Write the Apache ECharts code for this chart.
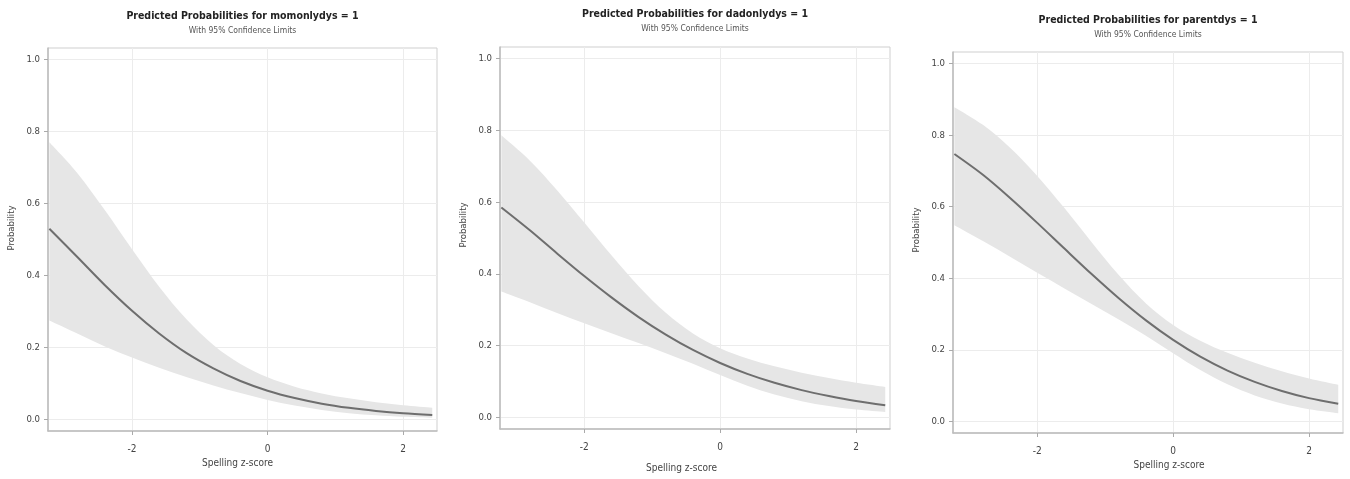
<!DOCTYPE html>
<html>
<head>
<meta charset="utf-8">
<title>Predicted Probabilities</title>
<script src="https://cdn.jsdelivr.net/npm/echarts@6/dist/echarts.min.js"></script>
<style>
  html, body { margin: 0; padding: 0; background: #fff; }
  #chart { width: 1350px; height: 479px; }
</style>
</head>
<body>
<div id="chart"></div>
<script>
// spelling z-score values where the curves were read
const zScores = [-3.22, -2.8, -2.4, -2.0, -1.6, -1.2, -0.8, -0.4, 0, 0.4, 0.8, 1.2, 1.6, 2.0, 2.43];

// momonlydys
const momMean = [0.530, 0.450, 0.373, 0.302, 0.239, 0.185, 0.142, 0.107, 0.080, 0.0595, 0.0439, 0.0323, 0.0237, 0.0173, 0.0126];
const momUpper = [0.770, 0.683, 0.581, 0.473, 0.369, 0.279, 0.207, 0.154, 0.117, 0.091, 0.0725, 0.0587, 0.0479, 0.0394, 0.0325];
const momLower = [0.275, 0.238, 0.203, 0.172, 0.144, 0.118, 0.0947, 0.0733, 0.0543, 0.0385, 0.0263, 0.0176, 0.0115, 0.0075, 0.0048];

// dadonlydys
const dadMean = [0.585, 0.5215, 0.457, 0.394, 0.3345, 0.2797, 0.2308, 0.1881, 0.1519, 0.1215, 0.0966, 0.0763, 0.060, 0.046, 0.034];
const dadUpper = [0.786, 0.7155, 0.633, 0.543, 0.4517, 0.3656, 0.2917, 0.234, 0.1931, 0.1644, 0.1427, 0.125, 0.1099, 0.0968, 0.0853];
const dadLower = [0.351, 0.321, 0.291, 0.2625, 0.2347, 0.2073, 0.1793, 0.1496, 0.1182, 0.0886, 0.0642, 0.0456, 0.0319, 0.0222, 0.0153];

// parentdys
const parMean = [0.747, 0.689, 0.6243, 0.5548, 0.483, 0.4119, 0.3443, 0.2825, 0.228, 0.1812, 0.1423, 0.1107, 0.0853, 0.0654, 0.0498];
const parUpper = [0.878, 0.8285, 0.7644, 0.686, 0.596, 0.501, 0.4091, 0.3299, 0.2696, 0.2259, 0.1922, 0.1642, 0.1406, 0.1201, 0.1026];
const parLower = [0.548, 0.504, 0.46, 0.4154, 0.3717, 0.3283, 0.2849, 0.2395, 0.191, 0.1438, 0.1038, 0.073, 0.0505, 0.0346, 0.0235];

const titles = [
  'Predicted Probabilities for momonlydys = 1',
  'Predicted Probabilities for dadonlydys = 1',
  'Predicted Probabilities for parentdys = 1'
];
const subTitle = 'With 95% Confidence Limits';
const xTicks = [-2, 0, 2];
const yTicks = [0, 0.2, 0.4, 0.6, 0.8, 1.0];
const xName = 'Spelling z-score';
const yName = 'Probability';

const panels = [
  { mean: momMean, upper: momUpper, lower: momLower },
  { mean: dadMean, upper: dadUpper, lower: dadLower },
  { mean: parMean, upper: parUpper, lower: parLower }
];

const font = "'DejaVu Sans Condensed', 'Liberation Sans', sans-serif";
const grids = [
  { left: 48, top: 48, width: 389, height: 383 },
  { left: 500, top: 47, width: 390, height: 382 },
  { left: 953, top: 52, width: 390, height: 381 }
];
const titleTops = [11, 9, 15];
const xNamePad = [[0, 10, 0, 0], [0, 27, 0, 0], [0, 0, 0, 42]];
const xNameGap = [26, 34, 27];
const yNamePad = [[0, 0, 0, 23], [0, 0, 0, 26], [0, 0, 0, 25]];

// smooth path through screen points (Catmull-Rom as cubic Bezier)
function curveSegs(pts) {
  let d = '';
  for (let k = 0; k < pts.length - 1; k++) {
    const p0 = pts[Math.max(k - 1, 0)], p1 = pts[k], p2 = pts[k + 1], p3 = pts[Math.min(k + 2, pts.length - 1)];
    const c1 = [p1[0] + (p2[0] - p0[0]) / 6, p1[1] + (p2[1] - p0[1]) / 6];
    const c2 = [p2[0] - (p3[0] - p1[0]) / 6, p2[1] - (p3[1] - p1[1]) / 6];
    d += ' C' + c1[0] + ' ' + c1[1] + ' ' + c2[0] + ' ' + c2[1] + ' ' + p2[0] + ' ' + p2[1];
  }
  return d;
}

const myChart = echarts.init(document.getElementById('chart'));

const option = {
  backgroundColor: '#fff',
  animation: false,
  title: titles.map((t, i) => ({
    text: t,
    subtext: subTitle,
    left: grids[i].left + grids[i].width / 2,
    top: titleTops[i],
    textAlign: 'center',
    padding: 0,
    itemGap: 4,
    textStyle: { fontFamily: font, fontSize: 10.5, fontWeight: 'bold', color: '#222' },
    subtextStyle: { fontFamily: font, fontSize: 8.5, color: '#555' }
  })),
  grid: grids.map(g => Object.assign({
    show: true,
    borderColor: '#cfcfcf',
    borderWidth: 1,
    backgroundColor: '#fff'
  }, g)),
  xAxis: grids.map((g, i) => ({
    type: 'value',
    gridIndex: i,
    min: -3.24,
    max: 2.5,
    name: xName,
    nameLocation: 'middle',
    nameGap: xNameGap[i],
    nameTextStyle: { fontFamily: font, fontSize: 10, color: '#444', padding: xNamePad[i] },
    axisLine: { show: true, onZero: false, lineStyle: { color: '#bdbdbd', width: 1.5 } },
    axisTick: { show: true, length: 4, customValues: xTicks, lineStyle: { color: '#aaa' } },
    axisLabel: {
      customValues: xTicks,
      margin: 13,
      fontFamily: font,
      fontSize: 10,
      color: '#444'
    },
    splitLine: { show: true, lineStyle: { color: '#ececec' } }
  })),
  yAxis: grids.map((g, i) => ({
    type: 'value',
    gridIndex: i,
    min: -0.032,
    max: 1.032,
    name: yName,
    nameLocation: 'middle',
    nameGap: 31,
    nameTextStyle: { fontFamily: font, fontSize: 9.5, color: '#444', padding: yNamePad[i] },
    axisLine: { show: true, onZero: false, lineStyle: { color: '#bdbdbd', width: 1.5 } },
    axisTick: { show: true, length: 4, customValues: yTicks, lineStyle: { color: '#aaa' } },
    axisLabel: {
      customValues: yTicks,
      margin: 8,
      fontFamily: font,
      fontSize: 9.5,
      color: '#444',
      formatter: v => v.toFixed(1)
    },
    splitLine: { show: true, lineStyle: { color: '#ececec' } }
  })),
  series: []
};

panels.forEach((p, i) => {
  // confidence band: one closed path through the axes' coordinates
  option.series.push({
    type: 'custom',
    xAxisIndex: i,
    yAxisIndex: i,
    clip: true,
    silent: true,
    z: 1,
    data: zScores.map((x, k) => [x, p.lower[k], p.upper[k]]),
    renderItem: function (params, api) {
      if (params.dataIndex !== 0) return null;
      const up = zScores.map((x, k) => api.coord([x, p.upper[k]]));
      const lo = zScores.map((x, k) => api.coord([x, p.lower[k]])).reverse();
      const d = 'M' + up[0][0] + ' ' + up[0][1] + curveSegs(up) +
        ' L' + lo[0][0] + ' ' + lo[0][1] + curveSegs(lo) + ' Z';
      return {
        type: 'path',
        shape: { pathData: d },
        style: { fill: '#e6e6e6', stroke: null }
      };
    }
  });
  option.series.push({
    type: 'line',
    xAxisIndex: i,
    yAxisIndex: i,
    z: 3,
    smooth: 0.3,
    showSymbol: false,
    silent: true,
    data: zScores.map((x, k) => [x, p.mean[k]]),
    lineStyle: { color: '#6e6e6e', width: 2 }
  });
});

myChart.setOption(option);
</script>
</body>
</html>
